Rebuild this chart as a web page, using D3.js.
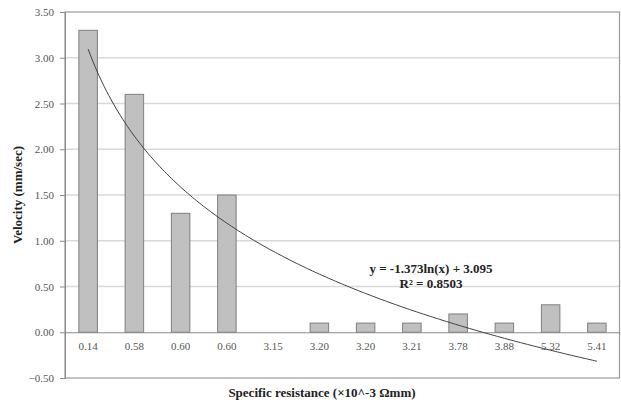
<!DOCTYPE html>
<html>
<head>
<meta charset="utf-8">
<script src="https://cdn.jsdelivr.net/npm/d3@7"></script>
<style>
  body { margin: 0; background: #fff; }
  svg { display: block; font-family: "Liberation Serif", "Times New Roman", serif; }
</style>
</head>
<body>
<div id="chart"></div>
<script>
// categories (specific resistance) and measured velocity
const categories = ['0.14', '0.58', '0.60', '0.60 ', '3.15', '3.20', '3.20 ', '3.21', '3.78', '3.88', '5.32', '5.41'];
const velocity = [3.3, 2.6, 1.3, 1.5, 0, 0.1, 0.1, 0.1, 0.2, 0.1, 0.3, 0.1];
const yTicks = [-0.5, 0, 0.5, 1, 1.5, 2, 2.5, 3, 3.5];
const trendLabel = ['y = -1.373ln(x) + 3.095', 'R² = 0.8503'];

const width = 621, height = 403;
const margin = { top: 12, right: 1, bottom: 25, left: 65 };

const svg = d3.select('#chart').append('svg')
    .attr('width', width)
    .attr('height', height);

const x = d3.scaleBand()
    .domain(categories)
    .range([margin.left, width - margin.right])
    .paddingInner(0.6)
    .paddingOuter(0.3);

const y = d3.scaleLinear()
    .domain([-0.5, 3.5])
    .range([height - margin.bottom, margin.top]);

// gridlines
svg.append('g')
    .selectAll('line')
    .data(yTicks.filter(d => d !== 0 && d !== -0.5 && d !== 3.5))
    .enter().append('line')
    .attr('x1', margin.left).attr('x2', width - margin.right)
    .attr('y1', d => y(d)).attr('y2', d => y(d))
    .attr('stroke', '#d9d9d9')
    .attr('stroke-width', 1.5);

// plot border
svg.append('rect')
    .attr('x', margin.left)
    .attr('y', margin.top)
    .attr('width', width - margin.right - margin.left - 0.5)
    .attr('height', y(-0.5) - margin.top)
    .attr('fill', 'none')
    .attr('stroke', '#9a9a9a')
    .attr('stroke-width', 1.2);

// bars
svg.append('g')
    .selectAll('rect')
    .data(velocity)
    .enter().append('rect')
    .attr('x', (d, i) => x(categories[i]))
    .attr('y', d => y(d))
    .attr('width', x.bandwidth())
    .attr('height', d => y(0) - y(d))
    .attr('fill', '#c0c0c0')
    .attr('stroke', '#7f7f7f')
    .attr('stroke-width', 1);

// y axis
const yAxis = d3.axisLeft(y)
    .tickValues(yTicks)
    .tickSize(5)
    .tickPadding(6)
    .tickFormat(d3.format('.2f'));

const gy = svg.append('g')
    .attr('transform', `translate(${margin.left},0)`)
    .call(yAxis);
gy.select('.domain').attr('stroke', '#8a8a8a');
gy.selectAll('.tick line').attr('stroke', '#8a8a8a');
gy.selectAll('.tick text')
    .attr('font-family', '"Liberation Serif", serif')
    .attr('font-size', 11)
    .attr('fill', '#555');

// category axis at zero
const xAxis = d3.axisBottom(x).tickSize(0).tickPadding(10);
const gx = svg.append('g')
    .attr('transform', `translate(0,${y(0)})`)
    .call(xAxis);
gx.select('.domain').attr('stroke', '#8a8a8a').attr('stroke-width', 1);
gx.selectAll('.tick text')
    .attr('font-family', '"Liberation Serif", serif')
    .attr('font-size', 11)
    .attr('fill', '#555');

// logarithmic trendline, least-squares fit on ln(index)
const lnX = velocity.map((d, i) => Math.log(i + 1));
const mL = d3.mean(lnX), mY = d3.mean(velocity);
const slope = d3.sum(lnX, (l, i) => (l - mL) * (velocity[i] - mY)) / d3.sum(lnX, l => (l - mL) * (l - mL));
const intercept = mY - slope * mL;

const xPos = d3.scaleLinear()
    .domain([1, categories.length])
    .range([x(categories[0]) + x.bandwidth() / 2, x(categories[categories.length - 1]) + x.bandwidth() / 2]);

const samples = d3.range(1, categories.length + 0.001, 0.05);
svg.append('path')
    .datum(samples)
    .attr('d', d3.line()
        .x(t => xPos(t))
        .y(t => y(slope * Math.log(t) + intercept)))
    .attr('fill', 'none')
    .attr('stroke', '#404040')
    .attr('stroke-width', 1);

// trend equation
svg.append('g')
    .selectAll('text')
    .data(trendLabel)
    .enter().append('text')
    .attr('x', 431)
    .attr('y', (d, i) => 273 + i * 15)
    .attr('text-anchor', 'middle')
    .attr('font-size', 13)
    .attr('font-weight', 'bold')
    .attr('fill', '#222')
    .text(d => d);

// axis titles
svg.append('text')
    .attr('transform', 'translate(22,195) rotate(-90)')
    .attr('text-anchor', 'middle')
    .attr('font-size', 13)
    .attr('font-weight', 'bold')
    .attr('fill', '#222')
    .text('Velocity (mm/sec)');

svg.append('text')
    .attr('x', 322)
    .attr('y', 397)
    .attr('text-anchor', 'middle')
    .attr('font-size', 13)
    .attr('font-weight', 'bold')
    .attr('fill', '#222')
    .text('Specific resistance (×10^-3 Ωmm)');
</script>
</body>
</html>
